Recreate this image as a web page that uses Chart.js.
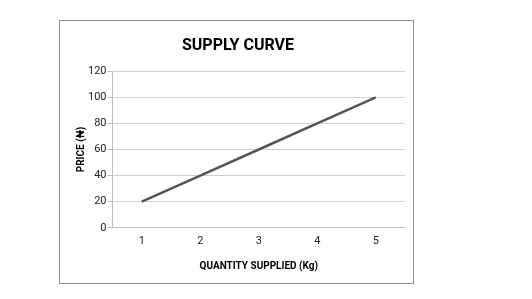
<!DOCTYPE html>
<html>
<head>
<meta charset="utf-8">
<script src="https://cdn.jsdelivr.net/npm/chart.js@4/dist/chart.umd.min.js"></script>
<style>
  html,body{margin:0;padding:0;background:#fff;}
  #box{position:absolute;left:59px;top:20px;width:353px;height:262px;border:1px solid #8c8c8c;}
  canvas{display:block;}
</style>
</head>
<body>
<div id="box"><canvas id="chart" width="353" height="262"></canvas></div>
<script>
// ===== Data =====
const quantities = ["1", "2", "3", "4", "5"];
const prices = [20, 40, 60, 80, 100];
const priceTicks = [0, 20, 40, 60, 80, 100, 120];

const font = "Roboto, 'Liberation Sans', sans-serif";

new Chart(document.getElementById("chart"), {
  type: "line",
  data: {
    labels: quantities,
    datasets: [{
      data: prices,
      borderColor: "#555555",
      borderWidth: 2.5,
      pointRadius: 0,
      tension: 0
    }]
  },
  options: {
    responsive: false,
    animation: false,
    layout: { padding: { left: 11, right: 8, top: 5, bottom: 7 } },
    plugins: {
      legend: { display: false },
      tooltip: { enabled: false },
      title: {
        display: true,
        text: "SUPPLY CURVE",
        color: "#000",
        font: { family: font, size: 16, weight: "bold" },
        padding: { top: 10, bottom: 16 }
      }
    },
    scales: {
      x: {
        type: "category",
        offset: true,
        grid: { display: false, drawTicks: false },
        border: { display: true, color: "#bdbdbd" },
        ticks: { color: "#222", font: { family: font, size: 11 }, padding: 7 },
        title: {
          display: true,
          text: "QUANTITY SUPPLIED (Kg)",
          color: "#000",
          font: { family: font, size: 10, weight: "bold" },
          padding: { top: 5 }
        }
      },
      y: {
        min: 0,
        max: 120,
        afterBuildTicks: (axis) => { axis.ticks = priceTicks.map(v => ({ value: v })); },
        grid: { color: "#d0d0d0", lineWidth: 1, tickLength: 5, tickColor: "#bdbdbd" },
        border: { display: true, color: "#bdbdbd" },
        ticks: { color: "#222", font: { family: font, size: 11 }, padding: 1 },
        title: {
          display: true,
          text: "PRICE (₦)",
          color: "#000",
          font: { family: font, size: 10, weight: "bold" },
          padding: { bottom: 0 }
        }
      }
    }
  }
});
</script>
</body>
</html>
